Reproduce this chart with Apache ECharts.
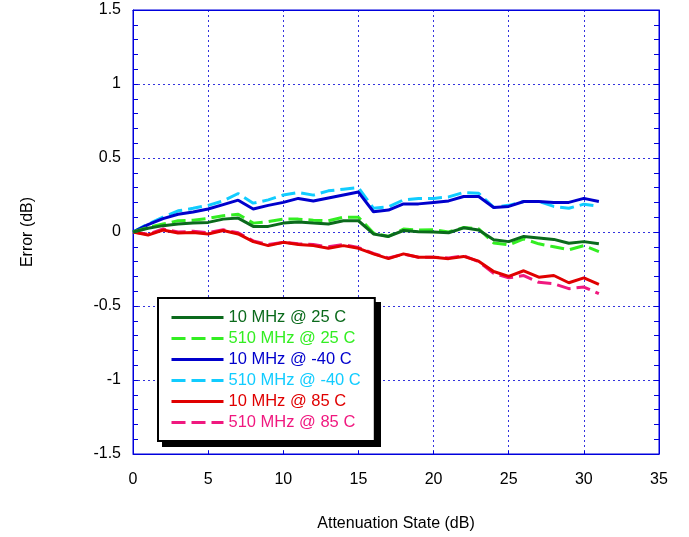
<!DOCTYPE html>
<html>
<head>
<meta charset="utf-8">
<script src="https://cdn.jsdelivr.net/npm/echarts@6/dist/echarts.min.js"></script>
<style>html,body{margin:0;padding:0;background:#fff}#c{width:689px;height:537px}</style>
</head>
<body>
<div id="c"></div>
<script>
const states = [0,1,2,3,4,5,6,7,8,9,10,11,12,13,14,15,16,17,18,19,20,21,22,23,24,25,26,27,28,29,30,31];
const seriesNames = ['10 MHz @ 25 C','510 MHz @ 25 C','10 MHz @ -40 C','510 MHz @ -40 C','10 MHz @ 85 C','510 MHz @ 85 C'];
const mhz10_25 = [0,0.025,0.043,0.054,0.06,0.065,0.087,0.094,0.038,0.038,0.06,0.068,0.06,0.054,0.076,0.076,-0.013,-0.03,0.01,0.002,0.0,-0.005,0.028,0.014,-0.052,-0.065,-0.03,-0.04,-0.05,-0.076,-0.065,-0.08];
const mhz510_25 = [0,0.03,0.054,0.076,0.08,0.092,0.11,0.12,0.06,0.07,0.087,0.087,0.08,0.076,0.1,0.1,-0.007,-0.03,0.02,0.013,0.015,0.0,0.03,0.022,-0.074,-0.087,-0.047,-0.08,-0.1,-0.12,-0.092,-0.132];
const mhz10_m40 = [0,0.05,0.09,0.12,0.135,0.155,0.185,0.215,0.155,0.18,0.2,0.227,0.21,0.23,0.25,0.27,0.137,0.148,0.19,0.19,0.2,0.21,0.24,0.24,0.166,0.173,0.206,0.206,0.2,0.2,0.227,0.206];
const mhz510_m40 = [0,0.054,0.1,0.143,0.16,0.18,0.21,0.26,0.195,0.217,0.25,0.267,0.249,0.278,0.289,0.3,0.16,0.17,0.217,0.227,0.227,0.237,0.267,0.262,0.166,0.18,0.206,0.206,0.173,0.16,0.188,0.173];
const mhz10_85 = [0,-0.02,0.013,-0.007,-0.003,-0.013,0.01,-0.013,-0.065,-0.092,-0.07,-0.084,-0.092,-0.11,-0.092,-0.11,-0.148,-0.18,-0.148,-0.17,-0.17,-0.18,-0.165,-0.197,-0.267,-0.3,-0.262,-0.305,-0.294,-0.343,-0.31,-0.354];
const mhz510_85 = [0,-0.015,0.02,0.0,0.005,-0.005,0.015,-0.005,-0.06,-0.085,-0.07,-0.08,-0.085,-0.1,-0.085,-0.105,-0.145,-0.175,-0.15,-0.17,-0.17,-0.175,-0.16,-0.2,-0.28,-0.31,-0.294,-0.34,-0.35,-0.383,-0.372,-0.417];
const yTicks = [-1.5,-1,-0.5,0,0.5,1,1.5];
const xTicks = [0,5,10,15,20,25,30,35];

const allValues = [mhz10_25, mhz510_25, mhz10_m40, mhz510_m40, mhz10_85, mhz510_85];
const colors = ['#0b6a1c','#33ee22','#0000cc','#11ccff','#e00000','#f0187f'];
const dashed = [false,true,false,true,false,true];

const chart = echarts.init(document.getElementById('c'));
const font = 'Liberation Sans, Arial, sans-serif';
const frame = '#0000dd';
const gridLine = {show:true, lineStyle:{color:'#3333dd', type:[2,3], width:1}};

const series = seriesNames.map((n,i)=>({
  name:n, type:'line', showSymbol:false, symbol:'none',
  data: states.map((s,j)=>[s, allValues[i][j]]),
  lineStyle:{color:colors[i], width:3, type: dashed[i] ? [14,6] : 'solid'},
  itemStyle:{color:colors[i]},
  z: 10 - i
}));

chart.setOption({
  animation:false,
  backgroundColor:'#fff',
  grid:{left:133, right:30, top:10, bottom:81, show:true, borderColor:frame, borderWidth:1, backgroundColor:'transparent'},
  graphic:[{type:'rect', left:162, top:302, shape:{width:219, height:145}, style:{fill:'#000'}, z:20, zlevel:0}],
  legend:{
    orient:'vertical', left:158, top:298, z:30,
    padding:[11,14,10,12], itemGap:4, itemWidth:52, itemHeight:14,
    backgroundColor:'#fff', borderColor:'#000', borderWidth:2,
    itemStyle:{opacity:0, color:'transparent', borderWidth:0},
    lineStyle:{width:3},
    data: seriesNames.map((n,i)=>({name:n, textStyle:{color:colors[i]}})),
    textStyle:{fontFamily:font, fontSize:16.5}
  },
  xAxis:[{
    type:'value', min:0, max:35, interval:5,
    name:'Attenuation State (dB)', nameLocation:'middle', nameGap:62,
    nameTextStyle:{fontFamily:font, fontSize:16, color:'#000'},
    axisLine:{show:true, onZero:false, lineStyle:{color:frame, width:1}},
    axisTick:{show:true, inside:true, length:3, lineStyle:{color:frame}},
    axisLabel:{fontFamily:font, fontSize:16, color:'#000', margin:18,
      formatter:v=> xTicks.includes(v) ? String(v) : ''},
    splitLine:gridLine
  },{
    type:'value', position:'top', min:0, max:35, interval:5,
    axisLine:{show:true, onZero:false, lineStyle:{color:frame}}, axisTick:{show:false}, axisLabel:{show:false}, splitLine:{show:false}
  }],
  yAxis:[{
    type:'value', min:-1.5, max:1.5, interval:0.5,
    name:'Error (dB)', nameLocation:'middle', nameGap:97, nameRotate:90,
    nameTextStyle:{fontFamily:font, fontSize:16, color:'#000'},
    axisLine:{show:true, onZero:false, lineStyle:{color:frame, width:1}},
    axisTick:{show:true, inside:true, length:5, lineStyle:{color:frame}},
    minorTick:{show:true, splitNumber:5, length:5, lineStyle:{color:frame}},
    axisLabel:{fontFamily:font, fontSize:16, color:'#000', margin:12,
      formatter:v=> yTicks.some(t=>Math.abs(t-v)<1e-9) ? String(+v.toFixed(2)) : ''},
    splitLine:gridLine
  },{
    type:'value', position:'right', min:-1.5, max:1.5, interval:0.5,
    axisLine:{show:true, onZero:false, lineStyle:{color:frame}},
    axisTick:{show:true, inside:true, length:5, lineStyle:{color:frame}},
    minorTick:{show:true, splitNumber:5, length:5, lineStyle:{color:frame}},
    axisLabel:{show:false}, splitLine:{show:false}
  }],
  series: series
});
</script>
</body>
</html>
